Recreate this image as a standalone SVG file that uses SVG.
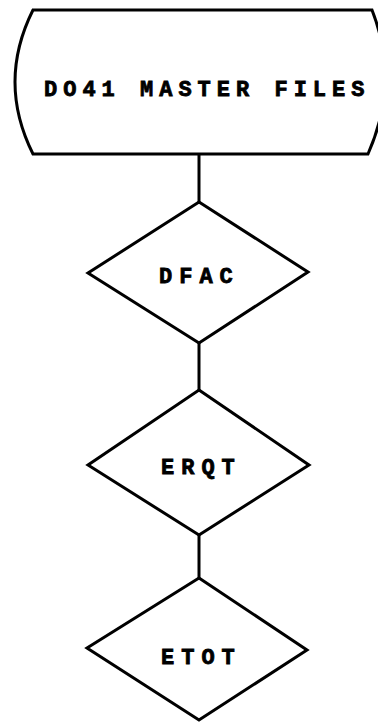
<svg xmlns="http://www.w3.org/2000/svg" width="378" height="722" viewBox="0 0 378 722">
<style>
.s{fill:none;stroke:#000;stroke-width:3;stroke-linejoin:miter}
.t{font-family:"Liberation Mono","Courier New",monospace;font-weight:bold;font-size:22px;letter-spacing:7px;fill:#000;stroke:#000;stroke-width:0.8}
.m{letter-spacing:6px}
</style>
<rect width="378" height="722" fill="#fff"/>
<g id="connectors">
<line class="s" x1="199" y1="153" x2="199" y2="202"/>
<line class="s" x1="199" y1="343" x2="199" y2="390"/>
<line class="s" x1="199" y1="535" x2="199" y2="578"/>
</g>
<g id="master">
<path class="s" d="M33 10 L372 10 Q400 82 368 154 L33 154 Q-3 82 33 10 Z"/>
<text class="t m" x="44" y="96">DO41 MASTER FILES</text>
</g>
<g id="dfac">
<polygon class="s" points="199,202 308,272 199,343 88,273"/>
<text class="t" x="159" y="283">DFAC</text>
</g>
<g id="erqt">
<polygon class="s" points="199,390 309,465 199,535 88,465"/>
<text class="t" x="161" y="474">ERQT</text>
</g>
<g id="etot">
<polygon class="s" points="199,578 307,650 199,720 87,648"/>
<text class="t" x="161" y="664">ETOT</text>
</g>
</svg>
